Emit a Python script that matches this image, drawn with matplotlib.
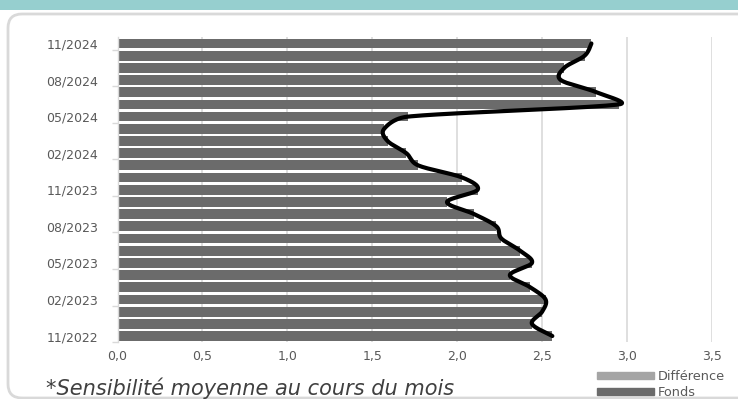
import numpy as np
import matplotlib
matplotlib.use('Agg')
import matplotlib.pyplot as plt
from matplotlib.patches import FancyBboxPatch, Rectangle, Patch
from matplotlib.transforms import IdentityTransform

months = ['11/2022', '12/2022', '01/2023', '02/2023', '03/2023', '04/2023', '05/2023',
          '06/2023', '07/2023', '08/2023', '09/2023', '10/2023', '11/2023', '12/2023',
          '01/2024', '02/2024', '03/2024', '04/2024', '05/2024', '06/2024', '07/2024',
          '08/2024', '09/2024', '10/2024', '11/2024']
fonds = [2.56, 2.44, 2.50, 2.52, 2.43, 2.31, 2.44, 2.37, 2.26, 2.23, 2.10, 1.94, 2.12,
         2.03, 1.77, 1.70, 1.59, 1.57, 1.71, 2.95, 2.82, 2.61, 2.63, 2.75, 2.79]
x_ticks = [0.0, 0.5, 1.0, 1.5, 2.0, 2.5, 3.0, 3.5]
footnote = '*Sensibilité moyenne au cours du mois'

FONDS = '#6b6b6b'
DIFF = '#a5a5a5'
GRID = '#d9d9d9'
TEXT = '#595959'
LINE = '#000000'


def smooth(ax, xs, ys, n=40, clamp=0.5):
    # Catmull-Rom, control arms clamped to part of the segment (screen space)
    p = np.column_stack([xs, ys]).astype(float)
    d = ax.transData.transform(p)
    p = np.vstack([p[0], p, p[-1]])
    d = np.vstack([d[0], d, d[-1]])
    seglen = np.hypot(*np.diff(d, axis=0).T)
    t = np.linspace(0, 1, n)[:, None]
    out = []
    for i in range(1, len(p) - 2):
        p0, p1, p2, p3 = p[i - 1], p[i], p[i + 1], p[i + 2]
        l12 = seglen[i]
        a1 = (p2 - p0) / 6
        a2 = (p3 - p1) / 6
        for a, dd in ((a1, (d[i + 1] - d[i - 1]) / 6), (a2, (d[i + 2] - d[i]) / 6)):
            la = np.hypot(*dd)
            if la > clamp * l12 and la > 0:
                a *= clamp * l12 / la
        c1 = p1 + a1
        c2 = p2 - a2
        seg = ((1 - t) ** 3) * p1 + 3 * ((1 - t) ** 2) * t * c1 + 3 * (1 - t) * t ** 2 * c2 + t ** 3 * p2
        out.append(seg if i == 1 else seg[1:])
    out = np.vstack(out)
    return out[:, 0], out[:, 1]


fig = plt.figure(figsize=(7.38, 3.99), dpi=100)

# card frame and top band
fig.patches.append(FancyBboxPatch((8, 1), 760, 384, boxstyle='round,pad=0,rounding_size=14',
                                  transform=IdentityTransform(), fc='white', ec=GRID, lw=2,
                                  zorder=-2))
fig.patches.append(Rectangle((0, 1 - 10 / 399), 1, 10 / 399, transform=fig.transFigure,
                             fc='#96cfcf', ec='none', zorder=-1))

ax = fig.add_axes([117.5 / 738, 0.1426, (712 - 117.5) / 738, 0.9063 - 0.1426])
ax.set_facecolor('none')
ax.set_xlim(0, 3.5)
ax.set_ylim(-0.5, len(months) - 0.5)

y = np.arange(len(months))
ax.barh(y, fonds, height=0.8, color=FONDS, zorder=2)
lx, ly = smooth(ax, fonds, y)
ax.plot(lx, ly, color=LINE, lw=3.0, solid_capstyle='round', zorder=3)

ax.set_xticks(x_ticks)
ax.set_xticklabels([f'{v:.1f}'.replace('.', ',') for v in x_ticks])
lab_idx = list(range(0, len(months), 3))
ax.set_yticks(lab_idx)
ax.set_yticklabels([months[i] for i in lab_idx])
ax.set_yticks([i - 0.5 for i in lab_idx], minor=True)
ax.tick_params(axis='x', length=0, pad=6, labelsize=9, labelcolor=TEXT)
ax.tick_params(axis='y', which='major', length=0, pad=14, labelsize=9, labelcolor=TEXT)
ax.tick_params(axis='y', which='minor', length=4, color=GRID, width=1)

ax.grid(True, axis='x', color=GRID, linewidth=1.2, zorder=0)
ax.set_axisbelow(True)
for s in ['top', 'right', 'bottom']:
    ax.spines[s].set_visible(False)
ax.spines['left'].set_color(GRID)
ax.spines['left'].set_linewidth(1)

handles = [Patch(color=DIFF, label='Différence'), Patch(color=FONDS, label='Fonds')]
fig.legend(handles=handles, loc='lower left', bbox_to_anchor=(592 / 738, -0.013),
           frameon=False, fontsize=9.3, labelcolor=TEXT, handlelength=4.4, handleheight=0.45,
           handletextpad=0.3, labelspacing=0.2, borderaxespad=0)

fig.text(46 / 738, 4 / 399, footnote, fontsize=15, style='italic', color='#404040',
         ha='left', va='baseline')

fig.savefig('out.png', dpi=100)
